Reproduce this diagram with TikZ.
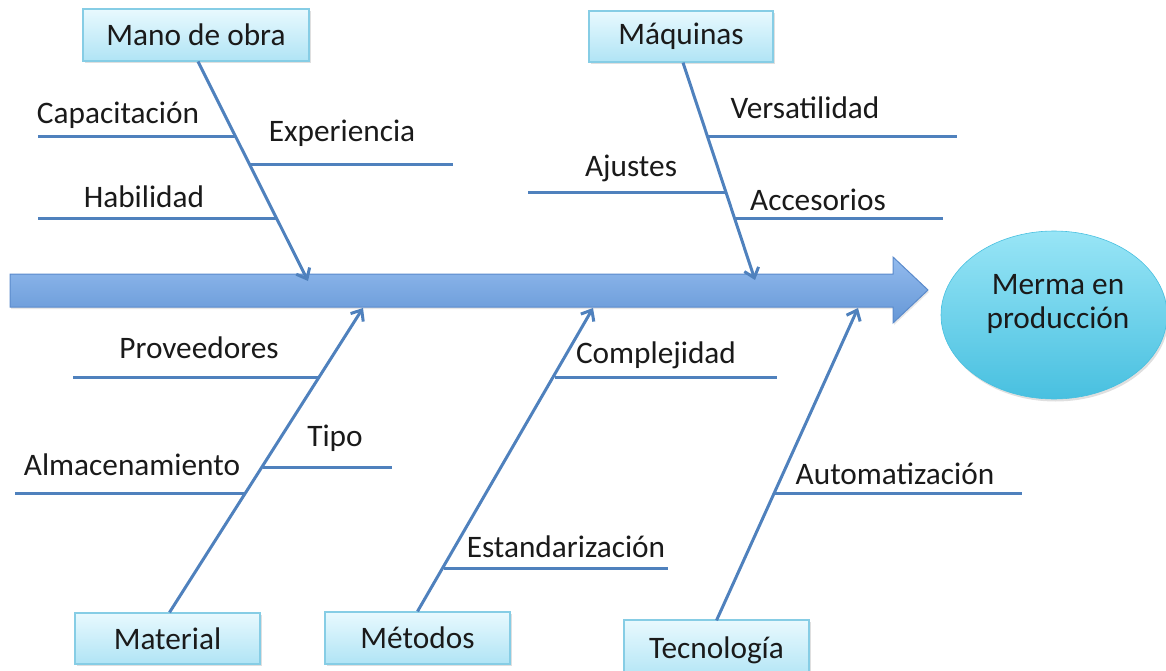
\documentclass[tikz,border=0pt]{standalone}
\usepackage{fontspec}
\setmainfont{Carlito}
\usetikzlibrary{arrows.meta,shadows,shapes.geometric}
\definecolor{ln}{HTML}{4F81BD}
\definecolor{txt}{HTML}{1A1A1A}
\definecolor{boxT}{HTML}{E8F9FE}
\definecolor{boxB}{HTML}{B0E4F5}
\definecolor{boxD}{HTML}{86CDE5}
\definecolor{arT}{HTML}{93BBEE}
\definecolor{arB}{HTML}{6597D6}
\definecolor{arD}{HTML}{5A8ACB}
\definecolor{elT}{HTML}{98E5F6}
\definecolor{elB}{HTML}{48C0E0}
\begin{document}
\begin{tikzpicture}[x=1pt,y=-1pt,
  font=\fontsize{31.3}{36}\selectfont,
  cat/.style={draw=boxD, line width=1.2pt, top color=boxT, bottom color=boxB,
    text=txt, inner sep=0pt, drop shadow={shadow xshift=1.5pt, shadow yshift=-2pt, opacity=0.25}},
  br/.style={draw=ln, line width=3pt},
  sp/.style={draw=ln, line width=3pt, -{Straight Barb[length=9pt,width=15pt,line width=3pt]}},
  lbl/.style={text=txt, inner sep=0pt}]
\useasboundingbox (0,0) rectangle (1166,671);

% main arrow
\shade[top color=arT, bottom color=arB, draw=arD, line width=1pt,
  drop shadow={shadow xshift=1pt, shadow yshift=-2pt, opacity=0.2}]
  (10,274) -- (893,274) -- (893,257) -- (928,290) -- (893,323) -- (893,307) -- (10,307) -- cycle;

% effect
\node[ellipse, minimum width=226, minimum height=168, top color=elT, bottom color=elB,
  draw=elB, line width=0.6pt, inner sep=0pt,
  drop shadow={shadow xshift=1.5pt, shadow yshift=-2.5pt, opacity=0.25}]
  (eff) at (1054,315) {};
\node[lbl, align=center] (efftxt) at (1058,304) {Merma en\\[-2pt]producción};

% category boxes
\node[cat, minimum width=226, minimum height=52] (mo)  at (196,35)   {Mano de obra};
\node[cat, minimum width=184, minimum height=51] (maq) at (681,36.5) {Máquinas};
\node[cat, minimum width=185, minimum height=51] (mat) at (167.5,638.5) {Material};
\node[cat, minimum width=185, minimum height=52] (met) at (417.5,638) {Métodos};
\node[cat, minimum width=185, minimum height=60] (tec) at (716.5,650) {Tecnología};

% spine ends on the main arrow
\coordinate (e1) at (308,281);
\coordinate (e2) at (755,280);
\coordinate (e3) at (363,308);
\coordinate (e4) at (593,308);
\coordinate (e5) at (858,308);

\draw[sp] ([xshift=2pt]mo.south) -- (e1);
\draw[sp] ([xshift=2pt]maq.south) -- (e2);
\draw[sp] ([xshift=2pt]mat.north) -- (e3);
\draw[sp] (met.north) -- (e4);
\draw[sp] ([yshift=-1pt]tec.north) -- (e5);

% Mano de obra branches
\coordinate (a1) at (235,137); \coordinate (a1e) at (38,137);
\coordinate (a2) at (250,165); \coordinate (a2e) at (453,165);
\coordinate (a3) at (276,218); \coordinate (a3e) at (38,218);
\draw[br] (a1) -- (a1e);
\draw[br] (a2) -- (a2e);
\draw[br] (a3) -- (a3e);
\node[lbl] (l1) at (118,115) {Capacitación};
\node[lbl] (l2) at (342,133) {Experiencia};
\node[lbl] (l3) at (144,197) {Habilidad};

% Maquinas branches
\coordinate (b1) at (708,137); \coordinate (b1e) at (957,137);
\coordinate (b2) at (726,192); \coordinate (b2e) at (528,192);
\coordinate (b3) at (734,218); \coordinate (b3e) at (943,218);
\draw[br] (b1) -- (b1e);
\draw[br] (b2) -- (b2e);
\draw[br] (b3) -- (b3e);
\node[lbl] (m1) at (805,108) {Versatilidad};
\node[lbl] (m2) at (631,168) {Ajustes};
\node[lbl] (m3) at (818,200) {Accesorios};

% Material branches
\coordinate (c1) at (320,377); \coordinate (c1e) at (73,377);
\coordinate (c2) at (263,467); \coordinate (c2e) at (392,467);
\coordinate (c3) at (245,493); \coordinate (c3e) at (15,493);
\draw[br] (c1) -- (c1e);
\draw[br] (c2) -- (c2e);
\draw[br] (c3) -- (c3e);
\node[lbl] (n1) at (199,348) {Proveedores};
\node[lbl] (n2) at (335,438) {Tipo};
\node[lbl] (n3) at (132,465) {Almacenamiento};

% Metodos branches
\coordinate (d1) at (555,377); \coordinate (d1e) at (777,377);
\coordinate (d2) at (444,568); \coordinate (d2e) at (668,568);
\draw[br] (d1) -- (d1e);
\draw[br] (d2) -- (d2e);
\node[lbl] (o1) at (656,355) {Complejidad};
\node[lbl] (o2) at (566,547) {Estandarización};

% Tecnologia branch
\coordinate (f1) at (773,493); \coordinate (f1e) at (1022,493);
\draw[br] (f1) -- (f1e);
\node[lbl] (p1) at (895,474) {Automatización};
\end{tikzpicture}
\end{document}
